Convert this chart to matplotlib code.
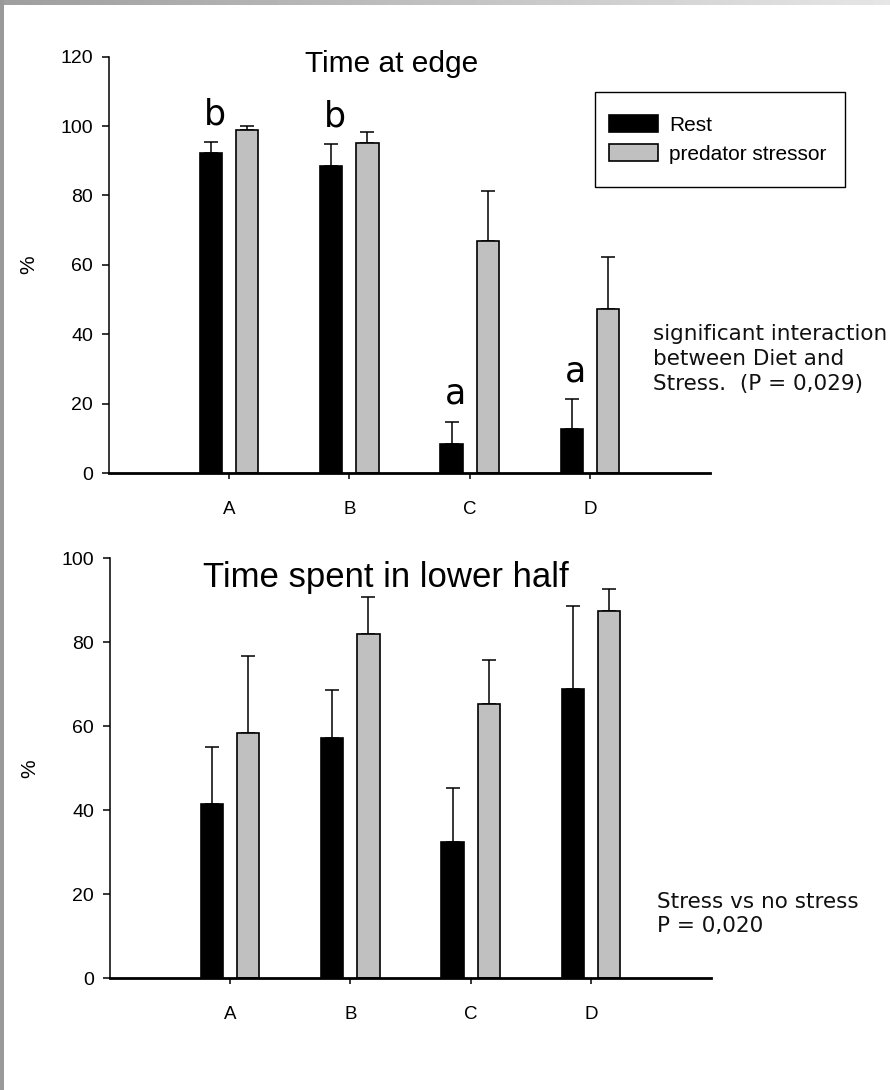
import numpy as np
import matplotlib
matplotlib.use("Agg")
import matplotlib.pyplot as plt
from matplotlib.patches import Rectangle

# ---- data -------------------------------------------------------------
groups = ["A", "B", "C", "D"]
series_names = ["Rest", "predator stressor"]

edge_rest = [92.3, 88.6, 8.4, 12.8]
edge_rest_err = [3.1, 6.3, 6.4, 8.5]
edge_pred = [99.0, 95.2, 67.0, 47.4]
edge_pred_err = [0.9, 3.2, 14.2, 14.8]
edge_letters = ["b", "b", "a", "a"]

lower_rest = [41.6, 57.2, 32.5, 68.9]
lower_rest_err = [13.5, 11.4, 12.7, 19.7]
lower_pred = [58.4, 82.0, 65.4, 87.4]
lower_pred_err = [18.3, 8.9, 10.4, 5.2]

edge_title = "Time at edge"
lower_title = "Time spent in lower half"
edge_note = "significant interaction\nbetween Diet and\nStress.  (P = 0,029)"
lower_note = "Stress vs no stress\nP = 0,020"

# ---- style ------------------------------------------------------------
plt.rcParams["font.family"] = ["Liberation Sans", "DejaVu Sans"]
REST_COLOR = "black"
PRED_COLOR = "#c0c0c0"
BAR_W = 0.185
OFFSET = 0.15
W, H = 890, 1090

fig = plt.figure(figsize=(W / 100, H / 100), dpi=100)
fig.patch.set_facecolor("white")


def px_axes(left, right, top, bottom):
    return fig.add_axes([left / W, 1 - bottom / H, (right - left) / W, (bottom - top) / H])


def draw_panel(ax, rest, rest_err, pred, pred_err, ymax, ystep):
    x = np.arange(len(groups))
    ax.bar(x - OFFSET, rest, BAR_W, color=REST_COLOR, edgecolor="black",
           linewidth=1.2, label=series_names[0], zorder=3)
    ax.bar(x + OFFSET, pred, BAR_W, color=PRED_COLOR, edgecolor="black",
           linewidth=1.2, label=series_names[1], zorder=3)
    zeros = np.zeros(len(groups))
    for xs, vals, errs in ((x - OFFSET, rest, rest_err), (x + OFFSET, pred, pred_err)):
        ax.errorbar(xs, vals, yerr=[zeros, errs], fmt="none", ecolor="black",
                    elinewidth=1.1, capsize=4.7, capthick=1.1, zorder=2)
    ax.set_xlim(-1, 4)
    ax.set_ylim(0, ymax)
    ax.set_yticks(np.arange(0, ymax + 1, ystep))
    ax.set_xticks(x)
    ax.set_xticklabels(groups)
    for s in ("top", "right"):
        ax.spines[s].set_visible(False)
    ax.spines["left"].set_linewidth(1.1)
    ax.spines["bottom"].set_linewidth(2.0)
    ax.spines["bottom"].set_zorder(4)
    ax.tick_params(axis="y", direction="out", length=5, width=1.1,
                   labelsize=14, pad=6.5)
    ax.tick_params(axis="x", direction="out", length=4, width=1.1,
                   labelsize=13.5, pad=16)
    ax.set_ylabel("%", fontsize=15)
    ax.yaxis.set_label_coords(-0.118, 0.5)
    ax.patch.set_alpha(0)
    return x


# ---- top panel: time at edge -----------------------------------------
ax1 = px_axes(109, 710, 56.7, 473)
x = draw_panel(ax1, edge_rest, edge_rest_err, edge_pred, edge_pred_err, 120, 20)
ax1.text(0.471, 118, edge_title, transform=ax1.get_yaxis_transform(),
         ha="center", va="center", fontsize=21.5)
for xi, v, e, letter in zip(x - OFFSET, edge_rest, edge_rest_err, edge_letters):
    ax1.text(xi + 0.03, v + e + 8, letter, ha="center", va="center",
             fontsize=25, family="DejaVu Sans")

# legend: framed box with the two swatches
fig.patches.append(Rectangle((595 / W, 1 - 187 / H), 250 / W, 95 / H,
                             transform=fig.transFigure, facecolor="none",
                             edgecolor="black", linewidth=1.0, zorder=5))
leg = ax1.legend(loc="center left", bbox_to_anchor=(609 / W, 1 - 139.5 / H),
                 bbox_transform=fig.transFigure, frameon=False,
                 fontsize=15, handlelength=2.35, handleheight=0.85,
                 handletextpad=0.55, borderpad=0, labelspacing=0.45,
                 borderaxespad=0)

# ---- bottom panel: time in lower half --------------------------------
ax2 = px_axes(110, 711, 558.3, 978.3)
draw_panel(ax2, lower_rest, lower_rest_err, lower_pred, lower_pred_err, 100, 20)
ax2.text(0.459, 95.5, lower_title, transform=ax2.get_yaxis_transform(),
         ha="center", va="center", fontsize=25)

# ---- side notes --------------------------------------------------------
fig.text(653 / W, 1 - 324 / H, edge_note, ha="left", va="top",
         fontsize=15.5, family="DejaVu Sans", linespacing=1.3, color="#111111")
fig.text(657 / W, 1 - 892 / H, lower_note, ha="left", va="top",
         fontsize=15.5, family="DejaVu Sans", linespacing=1.25, color="#111111")

# ---- grey page edge ----------------------------------------------------
top_strip = fig.add_axes([0, 1 - 5 / H, 1, 5 / H])
top_strip.imshow(np.linspace(0.62, 0.9, 256)[None, :], cmap="gray", vmin=0, vmax=1,
                 aspect="auto", extent=(0, 1, 0, 1))
top_strip.set_axis_off()
fig.patches.append(Rectangle((0, 0), 4 / W, 1, transform=fig.transFigure,
                             facecolor="#9a9a9a", edgecolor="none", zorder=5))

fig.savefig("out.png", dpi=100, facecolor="white")
